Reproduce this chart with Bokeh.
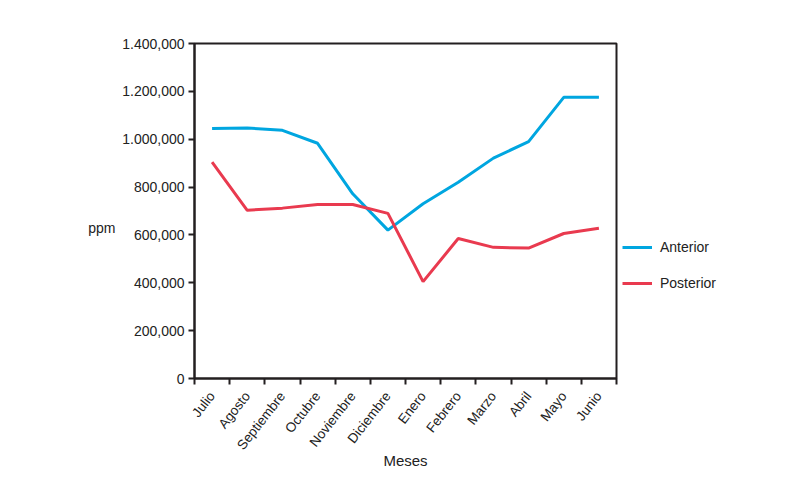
import math
from bokeh.plotting import figure
from bokeh.models import (ColumnDataSource, FixedTicker, Legend, LegendItem,
                          Range1d, LinearAxis)
from bokeh.embed import file_html
from bokeh.resources import INLINE

# ---- data ----
months = ["Julio", "Agosto", "Septiembre", "Octubre", "Noviembre", "Diciembre",
          "Enero", "Febrero", "Marzo", "Abril", "Mayo", "Junio"]
anterior = [1045000, 1047000, 1037000, 983000, 772000, 620000,
            730000, 820000, 921000, 990000, 1175000, 1175000]
posterior = [904000, 703000, 712000, 727000, 727000, 690000,
             405000, 585000, 548000, 545000, 606000, 628000]
y_ticks = [0, 200000, 400000, 600000, 800000, 1000000, 1200000, 1400000]
y_tick_labels = ["0", "200,000", "400,000", "600,000", "800,000",
                 "1.000,000", "1.200,000", "1.400,000"]

FONT = "Liberation Sans"
BLUE = "#00a6e0"
RED = "#e93a4f"
AXC = "#231f20"
TXT = "#222222"

idx = list(range(len(months)))
src = ColumnDataSource(dict(x=idx, ant=anterior, post=posterior))

p = figure(frame_width=422, frame_height=335, output_backend="svg",
           toolbar_location=None,
           x_range=Range1d(-0.5, len(months) - 0.5),
           y_range=Range1d(0, 1400000),
           min_border_left=194, min_border_top=43, min_border_right=160,
           min_border_bottom=96)
p.grid.visible = False
p.outline_line_color = AXC
p.outline_line_width = 2
p.background_fill_color = "white"
p.border_fill_color = "white"

r1 = p.line("x", "ant", source=src, line_color=BLUE, line_width=3)
r2 = p.line("x", "post", source=src, line_color=RED, line_width=3)

# x axis
xa = p.xaxis[0]
xa.ticker = FixedTicker(ticks=idx, minor_ticks=[i - 0.5 for i in range(len(months) + 1)])
xa.major_label_overrides = {i: m for i, m in enumerate(months)}
xa.major_label_orientation = math.radians(52)
xa.major_tick_out = 0
xa.major_tick_in = 0
xa.minor_tick_out = 6
xa.minor_tick_in = 0
xa.minor_tick_line_width = 2
xa.minor_tick_line_color = AXC
xa.axis_line_width = 2
xa.axis_line_color = AXC
xa.major_label_text_font = FONT
xa.major_label_text_font_size = "13.5px"
xa.major_label_text_color = TXT
xa.major_label_standoff = 9
xa.axis_label = "Meses"
xa.axis_label_text_font = FONT
xa.axis_label_text_font_style = "normal"
xa.axis_label_text_font_size = "15px"
xa.axis_label_text_color = TXT
xa.axis_label_standoff = -8

# y axis
ya = p.yaxis[0]
ya.ticker = FixedTicker(ticks=y_ticks, minor_ticks=[])
ya.major_label_overrides = {t: l for t, l in zip(y_ticks, y_tick_labels)}
ya.major_tick_out = 6
ya.major_tick_in = 0
ya.major_tick_line_width = 2
ya.major_tick_line_color = AXC
ya.minor_tick_out = 0
ya.minor_tick_in = 0
ya.axis_line_width = 2
ya.axis_line_color = AXC
ya.major_label_text_font = FONT
ya.major_label_text_font_size = "14px"
ya.major_label_text_color = TXT
ya.major_label_standoff = 4

# horizontal "ppm" label via an extra, otherwise invisible, left axis
ppm_axis = LinearAxis(ticker=FixedTicker(ticks=[627000], minor_ticks=[]),
                      major_label_overrides={627000: "ppm"},
                      axis_line_color=None, major_tick_line_color=None,
                      minor_tick_line_color=None, major_tick_out=0,
                      major_tick_in=0, minor_tick_out=0, minor_tick_in=0,
                      major_label_standoff=4,
                      major_label_text_font=FONT,
                      major_label_text_font_size="14px",
                      major_label_text_color=TXT)
p.add_layout(ppm_axis, "left")

legend = Legend(items=[LegendItem(label="Anterior", renderers=[r1]),
                       LegendItem(label="Posterior", renderers=[r2])],
                location=(6, 87), orientation="vertical",
                glyph_width=30, glyph_height=14, label_standoff=8,
                spacing=20, padding=0, margin=0,
                border_line_color=None, background_fill_alpha=0,
                label_text_font=FONT, label_text_font_size="14px",
                label_text_color=TXT)
p.add_layout(legend, "right")

open("out.html", "w").write(file_html(p, INLINE))
